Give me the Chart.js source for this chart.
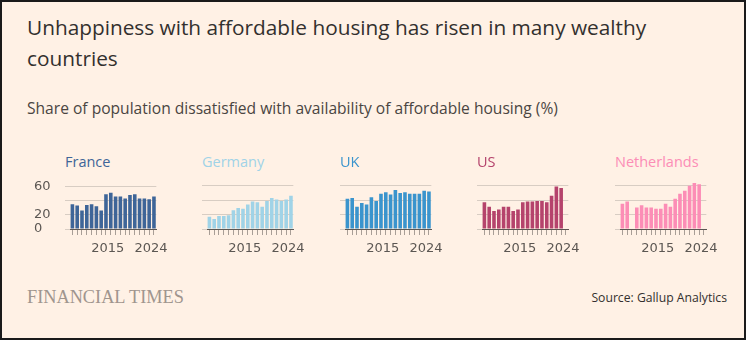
<!DOCTYPE html>
<html>
<head>
<meta charset="utf-8">
<script src="https://cdn.jsdelivr.net/npm/chart.js@4.4.1/dist/chart.umd.min.js"></script>
<style>
    html, body { margin: 0; padding: 0; background: #fff1e5; }
    #frame {
        position: relative; width: 746px; height: 340px; box-sizing: border-box;
        border: 2px solid #1a1a1a; background: #fff1e5; overflow: hidden;
        font-family: "Open Sans", sans-serif; color: #33302e;
    }
    #title { position: absolute; left: 25px; top: 10px; font-size: 20.8px; line-height: 31px; white-space: nowrap; }
    #subtitle { position: absolute; left: 25px; top: 96px; font-size: 15.6px; line-height: 20px; color: #4a4542; white-space: nowrap; }
    .panel-title { position: absolute; top: 150px; font-size: 14.5px; line-height: 20px; white-space: nowrap; }
    .panel-canvas { position: absolute; top: 168px; }
    #ft { position: absolute; left: 25px; top: 285px; font-family: "Liberation Serif", serif; font-size: 18.3px; line-height: 20px; color: #a0958e; }
    #source { position: absolute; right: 17px; top: 288px; font-size: 12.2px; line-height: 16px; }
</style>
</head>
<body>
<div id="frame">
    <div id="title">Unhappiness with affordable housing has risen in many wealthy<br>countries</div>
    <div id="subtitle">Share of population dissatisfied with availability of affordable housing (%)</div>
    <div id="ft">FINANCIAL TIMES</div>
    <div id="source">Source: Gallup Analytics</div>
</div>
<script>
// 年份 (2007-2024)
const years = ['2007', '2008', '2009', '2010', '2011', '2012', '2013', '2014', '2015',
               '2016', '2017', '2018', '2019', '2020', '2021', '2022', '2023', '2024'];
const shownYears = ['2015', '2024'];
const yTicks = [0, 20, 40, 60];
const yLabels = ['0', '20', '', '60'];

// 各国数据 (%), null = 无数据
const france = [35, 33, 26, 34, 35, 32, 26, 49, 51, 46, 46, 43, 48, 49, 43, 43, 42, 46];
const germany = [17, 14, 18, 18, 19, 26, 29, 28, 34, 38, 37, 31, 39, 43, 41, 39, 41, 46];
const uk = [42, 43, 31, 36, 34, 44, 39, 49, 51, 48, 54, 50, 51, 49, 49, 49, 53, 52];
const us = [37, 31, 25, 27, 31, 31, 25, 27, 37, 38, 38, 39, 39, 37, 46, 59, 57, null];
const netherlands = [35, 38, null, 30, 33, 30, 30, 28, 28, 35, 31, 42, 49, 53, 60, 64, 62, null];

const countries = ['France', 'Germany', 'UK', 'US', 'Netherlands'];
const seriesList = [france, germany, uk, us, netherlands];
const colors = ['#3e6598', '#a0d3e7', '#3a94cd', '#b5436c', '#fc8db6'];

const frame = document.getElementById('frame');
const axisWidth = 36;
const plotWidth = 89;
const padRight = 18;
// frame 有 2px 边框, 坐标要减掉
const border = 2;

countries.forEach((name, i) => {
    const areaLeft = Math.round(70 + 137.4 * i) - border;

    // 小标题
    const title = document.createElement('div');
    title.className = 'panel-title';
    title.style.left = (areaLeft - 5) + 'px';
    title.style.color = colors[i];
    title.textContent = name;
    frame.appendChild(title);

    const canvas = document.createElement('canvas');
    canvas.className = 'panel-canvas';
    canvas.width = axisWidth + plotWidth + padRight;
    canvas.height = 92;
    canvas.style.left = (areaLeft - axisWidth) + 'px';
    frame.appendChild(canvas);

    new Chart(canvas, {
        type: 'bar',
        data: {
            labels: years,
            datasets: [{
                data: seriesList[i],
                backgroundColor: colors[i],
                barPercentage: 0.75,
                categoryPercentage: 1
            }]
        },
        options: {
            responsive: false,
            animation: false,
            events: [],
            layout: { padding: { top: 10, right: padRight, left: 0, bottom: 0 } },
            plugins: { legend: { display: false }, tooltip: { enabled: false } },
            scales: {
                x: {
                    grid: { drawOnChartArea: false, drawTicks: true, tickLength: 6, color: '#a89e96', offset: false },
                    border: { color: '#5c5753', width: 1 },
                    ticks: {
                        autoSkip: false, maxRotation: 0, minRotation: 0,
                        padding: 6, labelOffset: -3,
                        color: '#5c5753',
                        font: { family: 'DejaVu Sans', size: 13 },
                        callback: (v, idx) => shownYears.includes(years[idx]) ? years[idx] : ''
                    },
                    afterFit: scale => { scale.height = 33; }
                },
                y: {
                    min: 0, max: 68,
                    afterBuildTicks: scale => { scale.ticks = yTicks.map(v => ({ value: v })); },
                    grid: { color: '#d8cdc3', tickLength: 5 },
                    border: { display: false },
                    ticks: {
                        display: i === 0,
                        autoSkip: false,
                        crossAlign: 'far',
                        color: '#5c5753',
                        font: { family: 'DejaVu Sans', size: 13 },
                        callback: v => yLabels[yTicks.indexOf(v)]
                    },
                    afterFit: scale => { scale.width = axisWidth; }
                }
            }
        }
    });
});
</script>
</body>
</html>
